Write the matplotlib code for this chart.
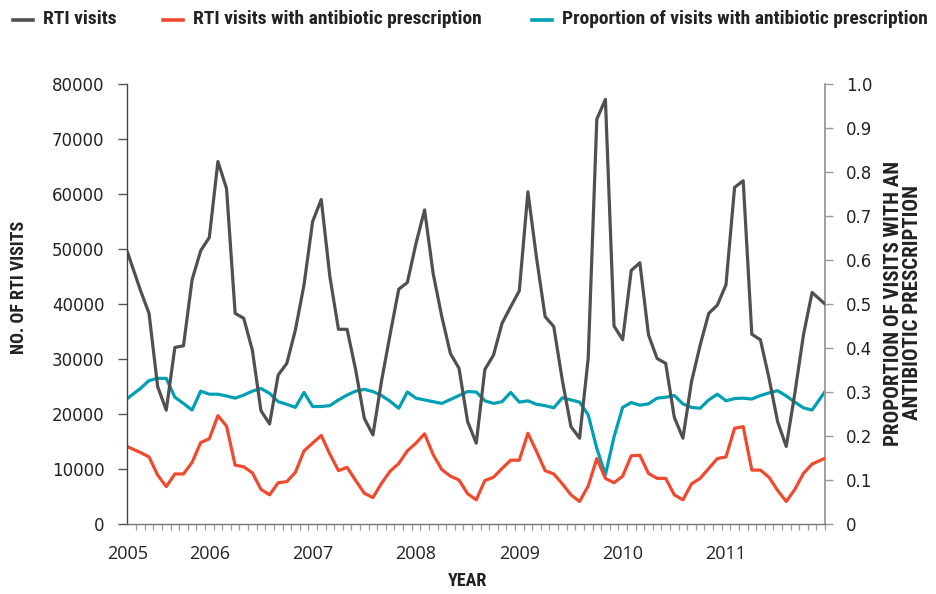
import numpy as np
import matplotlib
matplotlib.use("Agg")
import matplotlib.pyplot as plt
from matplotlib.lines import Line2D
from matplotlib.ticker import FixedLocator, MultipleLocator

plt.rcParams['font.family'] = ['DejaVu Sans']
COND = ['Liberation Sans Narrow', 'Roboto Condensed', 'Roboto', 'DejaVu Sans']

# Monthly data (81 months)
rti_visits = [47.1, 42.5, 38.3, 25.0, 20.7, 32.1, 32.4, 44.4, 49.7, 52.1,
              65.9, 61.0, 38.3, 37.4, 31.6, 20.6, 18.2, 27.1, 29.2, 35.3,
              43.5, 55.0, 59.0, 45.0, 35.4, 35.4, 28.0, 19.2, 16.2, 26.0,
              34.5, 42.7, 43.9, 51.0, 57.1, 45.5, 37.7, 31.0, 28.3, 18.6,
              14.7, 28.1, 30.7, 36.5, 39.5, 42.4, 60.4, 48.4, 37.7, 35.9,
              26.1, 17.7, 15.6, 30.1, 73.6, 77.2, 36.0, 33.5, 46.1, 47.5,
              34.4, 30.1, 29.2, 19.4, 15.6, 25.9, 32.5, 38.3, 39.8, 43.5,
              61.2, 62.4, 34.5, 33.5, 26.5, 18.6, 14.1, 23.8, 34.4, 42.1,
              40.7]
rti_abx = [13.7, 13.0, 12.2, 8.9, 6.8, 9.1, 9.1, 11.2, 14.8, 15.5,
           19.7, 17.8, 10.7, 10.4, 9.3, 6.3, 5.3, 7.5, 7.7, 9.4,
           13.3, 14.7, 16.1, 12.7, 9.7, 10.3, 7.9, 5.6, 4.8, 7.4,
           9.6, 11.0, 13.3, 14.7, 16.4, 12.6, 9.9, 8.7, 8.0, 5.5,
           4.4, 7.9, 8.5, 10.1, 11.6, 11.6, 16.5, 13.2, 9.7, 9.1,
           7.3, 5.3, 4.1, 6.9, 11.9, 8.3, 7.5, 8.7, 12.4, 12.5,
           9.2, 8.3, 8.3, 5.3, 4.4, 7.3, 8.3, 10.1, 11.9, 12.2,
           17.4, 17.7, 9.8, 9.8, 8.5, 6.1, 4.1, 6.3, 9.2, 10.9,
           11.6]
proportion = [0.293, 0.308, 0.326, 0.331, 0.331, 0.288, 0.274, 0.259, 0.302, 0.295,
              0.295, 0.291, 0.286, 0.293, 0.302, 0.308, 0.297, 0.278, 0.272, 0.265,
              0.299, 0.267, 0.267, 0.269, 0.282, 0.293, 0.302, 0.306, 0.301, 0.292,
              0.279, 0.263, 0.300, 0.286, 0.282, 0.278, 0.274, 0.283, 0.292, 0.301,
              0.300, 0.280, 0.274, 0.278, 0.299, 0.277, 0.280, 0.272, 0.269, 0.264,
              0.287, 0.282, 0.277, 0.248, 0.172, 0.112, 0.198, 0.265, 0.276, 0.270,
              0.273, 0.286, 0.288, 0.292, 0.273, 0.265, 0.263, 0.282, 0.295, 0.280,
              0.285, 0.286, 0.284, 0.292, 0.298, 0.303, 0.291, 0.277, 0.264, 0.259,
              0.287]
year_labels = ['2005', '2006', '2007', '2008', '2009', '2010', '2011']
year_label_month = [-0.5, 9, 21, 33, 45, 57, 69]

left_ticks = [0, 10000, 20000, 30000, 40000, 50000, 60000, 70000, 80000]
right_ticks = [0, 0.1, 0.2, 0.3, 0.4, 0.5, 0.6, 0.7, 0.8, 0.9, 1.0]
right_tick_labels = ['0', '0.1', '0.2', '0.3', '0.4', '0.5', '0.6', '0.7', '0.8', '0.9', '1.0']
legend_labels = ['RTI visits', 'RTI visits with antibiotic prescription',
                 'Proportion of visits with antibiotic prescription']

GRAY = '#505050'
RED = '#ef4a2d'
TEAL = '#00a0b4'

n = len(rti_visits)
x = np.arange(n) + 0.5


def edge_extend(v):
    """Carry each series' line on to the axis edges (half a month each side)."""
    v = np.asarray(v, dtype=float)
    xe = np.concatenate([[0.0], x, [float(n)]])
    ve = np.concatenate([[v[0] - (v[1] - v[0]) / 2], v, [v[-1] + (v[-1] - v[-2]) / 2]])
    return xe, ve


fig = plt.figure(figsize=(9.36, 5.94), dpi=100)
ax = fig.add_axes([127.5 / 936, 1 - 524 / 594, (825 - 127.5) / 936, (524 - 84) / 594])
ax2 = ax.twinx()

lw = 2.3
l1, = ax.plot(*edge_extend(np.array(rti_visits) * 1000), color=GRAY, lw=lw)
l2, = ax.plot(*edge_extend(np.array(rti_abx) * 1000), color=RED, lw=lw)
l3, = ax2.plot(*edge_extend(proportion), color=TEAL, lw=lw)
ax.set_zorder(ax2.get_zorder() + 1)
ax.patch.set_visible(False)

ax.set_xlim(0, n)
ax.set_ylim(0, 80000)
ax2.set_ylim(0, 1.0)

ax.set_yticks(left_ticks)
ax.set_yticklabels([str(v) for v in left_ticks])
ax2.set_yticks(right_ticks)
ax2.set_yticklabels(right_tick_labels)

ax.xaxis.set_major_locator(FixedLocator([m + 0.5 for m in year_label_month]))
ax.set_xticklabels(year_labels, fontfamily=['Open Sans', 'DejaVu Sans'])
ax.xaxis.set_minor_locator(MultipleLocator(1))
ax.tick_params(axis='x', which='major', length=0, pad=15, labelsize=13, colors='#222222')
ax.tick_params(axis='x', which='minor', length=4, width=0.9, color='#999999')
ax.tick_params(axis='y', which='major', length=6.5, width=1.0, color='#555555', pad=10,
               labelsize=12, labelcolor='#222222')
ax2.tick_params(axis='y', which='major', length=6, width=1.0, color='#999999', pad=9,
                labelsize=12, labelcolor='#222222')

for a in (ax, ax2):
    a.spines['top'].set_visible(False)
ax.spines['left'].set_color('#444444')
ax.spines['left'].set_linewidth(1.0)
ax.spines['bottom'].set_color('#777777')
ax.spines['bottom'].set_linewidth(1.0)
ax.spines['right'].set_visible(False)
ax2.spines['left'].set_visible(False)
ax2.spines['bottom'].set_visible(False)
ax2.spines['right'].set_color('#999999')
ax2.spines['right'].set_linewidth(1.3)

lab = dict(fontweight='bold', color='#222222', family=COND)
fig.text(19 / 936, 1 - 287 / 594, 'NO. OF RTI VISITS', rotation=90, ha='center', va='center',
         fontsize=13, **lab)
fig.text(903 / 936, 1 - 303 / 594, 'PROPORTION OF VISITS WITH AN\nANTIBIOTIC PRESCRIPTION',
         rotation=90, ha='center', va='center', linespacing=0.95, multialignment='center',
         fontsize=15, **lab)
fig.text(467 / 936, 1 - 581 / 594, 'YEAR', ha='center', va='center', fontsize=13, **lab)

# legend, placed item by item as in the reference
handle_x = [13, 163, 532]
for hx, col, txt in zip(handle_x, [GRAY, RED, TEAL], legend_labels):
    yy = 1 - 19.5 / 594
    fig.add_artist(Line2D([hx / 936, (hx + 20) / 936], [yy, yy], color=col, lw=2.6,
                          transform=fig.transFigure))
    fig.text((hx + 30) / 936, yy, txt, ha='left', va='center', fontsize=14,
             fontweight='bold', color='#222222', family=COND)

fig.savefig('out.png', dpi=100)
